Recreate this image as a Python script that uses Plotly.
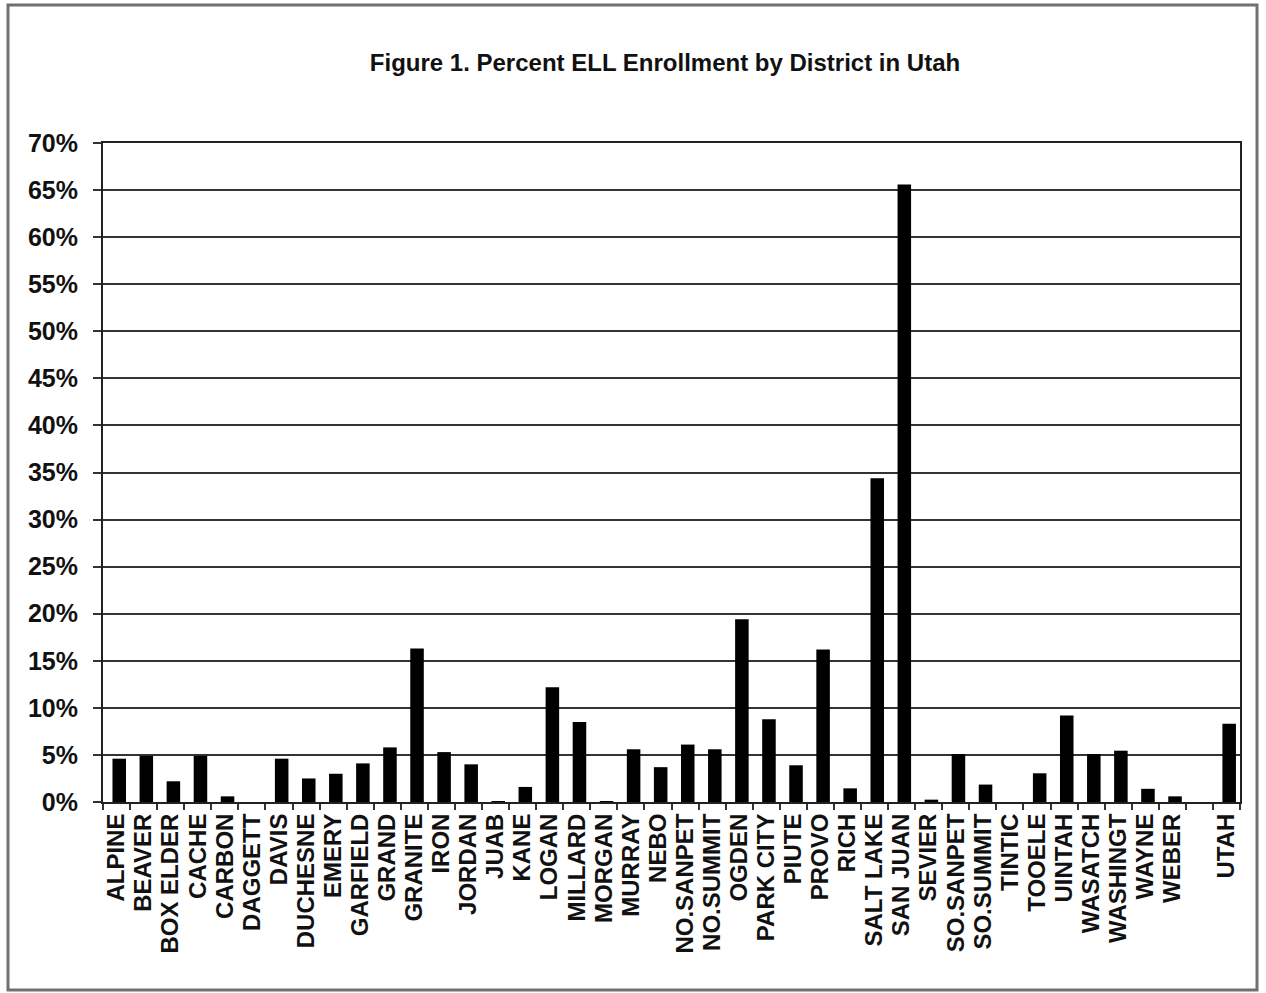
import plotly.graph_objects as go

# Percent of students enrolled as English Language Learners, by district
districts = [
    "ALPINE", "BEAVER", "BOX ELDER", "CACHE", "CARBON", "DAGGETT", "DAVIS",
    "DUCHESNE", "EMERY", "GARFIELD", "GRAND", "GRANITE", "IRON", "JORDAN",
    "JUAB", "KANE", "LOGAN", "MILLARD", "MORGAN", "MURRAY", "NEBO",
    "NO.SANPET", "NO.SUMMIT", "OGDEN", "PARK CITY", "PIUTE", "PROVO", "RICH",
    "SALT LAKE", "SAN JUAN", "SEVIER", "SO.SANPET", "SO.SUMMIT", "TINTIC",
    "TOOELE", "UINTAH", "WASATCH", "WASHINGT", "WAYNE", "WEBER", " ", "UTAH",
]
ell_percent = [
    4.6, 4.9, 2.2, 4.9, 0.6, 0.0, 4.6,
    2.5, 3.0, 4.1, 5.8, 16.3, 5.3, 4.0,
    0.1, 1.6, 12.2, 8.5, 0.1, 5.6, 3.7,
    6.1, 5.6, 19.4, 8.8, 3.9, 16.2, 1.45,
    34.4, 65.6, 0.25, 5.1, 1.85, 0.0,
    3.05, 9.2, 5.1, 5.45, 1.4, 0.6, None, 8.3,
]
y_ticks = list(range(0, 75, 5))
y_tick_labels = [f"{v}%" for v in y_ticks]

W, H = 1266, 993
L, R, T, B = 103, 1240, 143, 802   # plot area edges in pixels

font_family = "Arial, Liberation Sans, sans-serif"

fig = go.Figure(
    go.Bar(
        x=districts,
        y=ell_percent,
        marker=dict(color="black", line=dict(width=0)),
        width=0.5,
        offset=-0.15,
    )
)

def px_to_paper_x(px):
    return (px - L) / (R - L)

def px_to_paper_y(py):
    return (B - py) / (B - T)

# Outer frame around the whole figure
fig.add_shape(
    type="rect", xref="paper", yref="paper",
    x0=px_to_paper_x(8), x1=px_to_paper_x(1257),
    y0=px_to_paper_y(990), y1=px_to_paper_y(5),
    line=dict(color="#707070", width=3),
    layer="below",
)

fig.update_layout(
    width=W, height=H,
    margin=dict(l=L, r=W - R, t=T, b=H - B, pad=0),
    paper_bgcolor="white",
    plot_bgcolor="white",
    showlegend=False,
    bargap=0.5,
    title=dict(
        text="Figure 1. Percent ELL Enrollment by District in Utah",
        x=665 / W, xanchor="center", xref="container",
        y=1 - 63 / H, yanchor="middle", yref="container",
        font=dict(family=font_family, size=24, color="#111", weight="bold"),
    ),
    xaxis=dict(
        type="category",
        categoryorder="array",
        categoryarray=districts,
        tickmode="array",
        tickvals=districts,
        ticktext=districts,
        tickangle=-90,
        tickson="boundaries",
        ticks="outside",
        ticklen=6,
        tickwidth=1.5,
        tickcolor="#333",
        showline=True,
        linecolor="#222",
        linewidth=2,
        mirror=True,
        showgrid=False,
        tickfont=dict(family=font_family, size=24, color="#111", weight="bold"),
        range=[-0.5, len(districts) - 0.5],
    ),
    yaxis=dict(
        range=[0, 70],
        tickmode="array",
        tickvals=y_ticks,
        ticktext=y_tick_labels,
        ticks="outside",
        ticklen=8,
        tickwidth=1.5,
        tickcolor="#333",
        ticklabelstandoff=10,
        showline=True,
        linecolor="#222",
        linewidth=2,
        mirror=True,
        showgrid=True,
        gridcolor="#333",
        gridwidth=2,
        zeroline=False,
        tickfont=dict(family=font_family, size=25, color="#111", weight="bold"),
    ),
)

fig.write_html("out.html")
